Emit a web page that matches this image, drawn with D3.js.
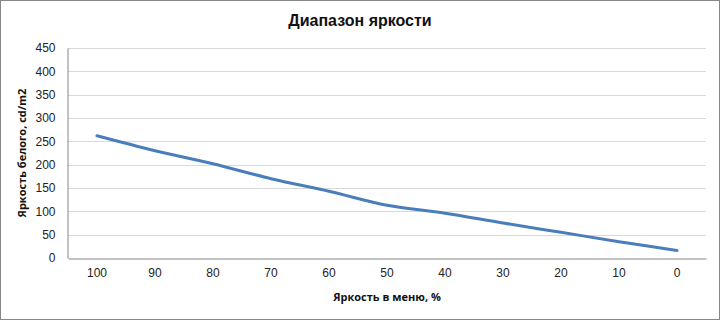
<!DOCTYPE html>
<html>
<head>
<meta charset="utf-8">
<script src="https://cdn.jsdelivr.net/npm/d3@7"></script>
<style>
  body { margin: 0; background: #fff; }
  svg { display: block; font-family: "Open Sans", "Liberation Sans", sans-serif; }
</style>
</head>
<body>
<svg id="chart" width="720" height="320"></svg>
<script>
// chart data
const categories = ["100", "90", "80", "70", "60", "50", "40", "30", "20", "10", "0"];
const brightness = [262, 230, 202, 170, 143, 113, 96, 75, 55, 35, 16];
const yTicks = [0, 50, 100, 150, 200, 250, 300, 350, 400, 450];

const svg = d3.select("#chart");
const W = 720, H = 320;
const margin = { left: 68, right: 14, top: 48, bottom: 62 };

// outer border
svg.append("rect")
    .attr("x", 0.5).attr("y", 0.5)
    .attr("width", W - 1).attr("height", H - 1)
    .attr("fill", "#fff")
    .attr("stroke", "#868686");

const x = d3.scaleBand()
    .domain(categories)
    .range([margin.left, W - margin.right]);

const y = d3.scaleLinear()
    .domain([0, 450])
    .range([H - margin.bottom, margin.top]);

// gridlines
svg.append("g")
    .selectAll("line")
    .data(yTicks.filter(d => d > 0))
    .join("line")
    .attr("x1", margin.left).attr("x2", W - margin.right)
    .attr("y1", d => Math.round(y(d)) + 0.5)
    .attr("y2", d => Math.round(y(d)) + 0.5)
    .attr("stroke", "#d9d9d9");

// y axis
const yAxis = svg.append("g")
    .attr("transform", `translate(${margin.left - 0.5},0)`)
    .call(d3.axisLeft(y).tickValues(yTicks).tickSize(0).tickPadding(12));
yAxis.select(".domain").attr("stroke", "#868686");
yAxis.selectAll("text").attr("font-size", 12).attr("fill", "#222");

// x axis
const xAxis = svg.append("g")
    .attr("transform", `translate(0,${Math.round(y(0)) + 0.5})`)
    .call(d3.axisBottom(x).tickSize(0).tickPadding(10));
xAxis.select(".domain").attr("stroke", "#868686");
xAxis.selectAll("text").attr("font-size", 12).attr("fill", "#222");

// line
const line = d3.line()
    .x((d, i) => x(categories[i]) + x.bandwidth() / 2)
    .y(d => y(d))
    .curve(d3.curveCatmullRom.alpha(0.5));

svg.append("path")
    .datum(brightness)
    .attr("d", line)
    .attr("fill", "none")
    .attr("stroke", "#4a7ebb")
    .attr("stroke-width", 3)
    .attr("stroke-linecap", "round");

// titles
svg.append("text")
    .attr("x", 360).attr("y", 26)
    .attr("text-anchor", "middle")
    .attr("font-family", "Liberation Sans, Arial, sans-serif")
    .attr("font-weight", "bold")
    .attr("font-size", 16)
    .attr("fill", "#111")
    .text("Диапазон яркости");

svg.append("text")
    .attr("x", 387).attr("y", 301)
    .attr("text-anchor", "middle")
    .attr("font-weight", "bold")
    .attr("font-size", 11)
    .attr("fill", "#111")
    .text("Яркость  в меню, %");

svg.append("text")
    .attr("transform", "translate(26,153) rotate(-90)")
    .attr("text-anchor", "middle")
    .attr("font-weight", "bold")
    .attr("font-size", 11)
    .attr("fill", "#111")
    .text("Яркость  белого, cd/m2");
</script>
</body>
</html>
